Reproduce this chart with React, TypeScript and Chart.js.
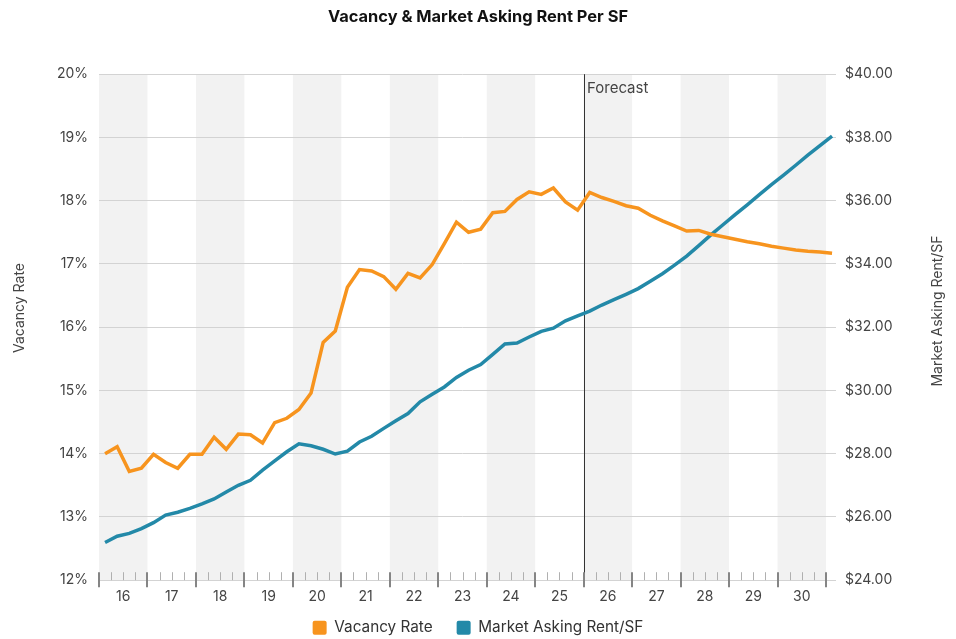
import React, { useEffect, useRef } from 'react';
import { Chart, registerables } from 'chart.js';

Chart.register(...registerables);

// Year labels (one per 4 quarters), 2016 .. 2030
const yearLabels = ['16', '17', '18', '19', '20', '21', '22', '23', '24', '25', '26', '27', '28', '29', '30'];

// Quarterly vacancy rate (%), 16Q1 .. 31Q1
const vacancyRate = [
  14.0, 14.11, 13.72, 13.77, 13.99, 13.86, 13.77, 13.99, 13.99, 14.26,
  14.07, 14.31, 14.3, 14.17, 14.49, 14.56, 14.7, 14.96, 15.76, 15.94,
  16.63, 16.91, 16.89, 16.8, 16.6, 16.85, 16.78, 16.99, 17.32, 17.66,
  17.5, 17.55, 17.81, 17.83, 18.02, 18.14, 18.1, 18.2, 17.98, 17.85,
  18.13, 18.05, 17.99, 17.92, 17.88, 17.77, 17.68, 17.6, 17.52, 17.53,
  17.47, 17.43, 17.39, 17.35, 17.32, 17.28, 17.25, 17.22, 17.2, 17.19, 17.17,
];

// Quarterly market asking rent ($/SF), 16Q1 .. 31Q1
const askingRent = [
  25.19, 25.39, 25.48, 25.63, 25.82, 26.06, 26.15, 26.27, 26.41, 26.57,
  26.79, 27.0, 27.16, 27.48, 27.77, 28.06, 28.31, 28.25, 28.14, 27.99,
  28.08, 28.37, 28.55, 28.8, 29.04, 29.27, 29.64, 29.88, 30.11, 30.41,
  30.64, 30.82, 31.14, 31.47, 31.5, 31.69, 31.87, 31.97, 32.2, 32.36,
  32.51, 32.7, 32.87, 33.04, 33.22, 33.45, 33.69, 33.96, 34.25, 34.58,
  34.92, 35.24, 35.56, 35.87, 36.19, 36.51, 36.81, 37.12, 37.44, 37.74, 38.04,
];

const forecastStartQuarter = 40; // boundary between 25 and 26
const quartersPerYear = 4;

const ORANGE = '#F7941E';
const BLUE = '#2389A8';
const FONT = 'Inter, "Noto Sans", sans-serif';

export default function App() {
  const canvasRef = useRef<HTMLCanvasElement | null>(null);

  useEffect(() => {
    if (!canvasRef.current) return;
    const totalQuarters = yearLabels.length * quartersPerYear;

    const decor = {
      id: 'decor',
      afterLayout(chart: any) {
        if (chart.legend) {
          chart.legend.top += 6.5;
          chart.legend.bottom += 6.5;
        }
        const x = chart.scales.x;
        if (x) {
          x.bottom += 26;
          x.height += 26;
        }
      },
      beforeDraw(chart: any) {
        const { ctx, chartArea: a } = chart;
        const x = chart.scales.x;
        ctx.save();
        ctx.fillStyle = '#F2F2F2';
        for (let j = 0; j < yearLabels.length; j += 2) {
          const x0 = x.getPixelForValue(j * quartersPerYear);
          const x1 = x.getPixelForValue((j + 1) * quartersPerYear);
          ctx.fillRect(x0, a.top, x1 - x0, a.bottom - a.top);
        }
        ctx.restore();
      },
      beforeDatasetsDraw(chart: any) {
        const { ctx, chartArea: a } = chart;
        const x = chart.scales.x;
        const fx = Math.round(x.getPixelForValue(forecastStartQuarter)) + 0.5;
        ctx.save();
        ctx.strokeStyle = '#333333';
        ctx.lineWidth = 1;
        ctx.beginPath();
        ctx.moveTo(fx, a.top);
        ctx.lineTo(fx, a.bottom);
        ctx.stroke();
        ctx.fillStyle = '#444444';
        ctx.font = '15px ' + FONT;
        ctx.textAlign = 'left';
        ctx.textBaseline = 'middle';
        ctx.fillText('Forecast', fx + 2.5, a.top + 14);
        ctx.restore();
      },
      afterDraw(chart: any) {
        const { ctx, chartArea: a } = chart;
        const x = chart.scales.x;
        ctx.save();
        for (let k = 0; k <= totalQuarters; k++) {
          const px = Math.round(x.getPixelForValue(k));
          const major = k % quartersPerYear === 0;
          ctx.beginPath();
          if (major) {
            ctx.strokeStyle = '#858585';
            ctx.lineWidth = 2;
            ctx.moveTo(px, a.bottom - 8);
            ctx.lineTo(px, a.bottom + 7);
          } else {
            ctx.strokeStyle = '#B0B0B0';
            ctx.lineWidth = 1;
            ctx.moveTo(px + 0.5, a.bottom - 8);
            ctx.lineTo(px + 0.5, a.bottom);
          }
          ctx.stroke();
        }
        // axis titles
        ctx.fillStyle = '#444444';
        ctx.font = '14px ' + FONT;
        ctx.textAlign = 'center';
        ctx.textBaseline = 'middle';
        ctx.translate(20, 308);
        ctx.rotate(-Math.PI / 2);
        ctx.fillText('Vacancy Rate', 0, 0);
        ctx.restore();
        ctx.save();
        ctx.fillStyle = '#444444';
        ctx.font = '14px ' + FONT;
        ctx.textAlign = 'center';
        ctx.textBaseline = 'middle';
        ctx.translate(938, 311);
        ctx.rotate(-Math.PI / 2);
        ctx.fillText('Market Asking Rent/SF', 0, 0);
        ctx.restore();
      },
    };

    const chart = new Chart(canvasRef.current, {
      type: 'line',
      data: {
        datasets: [
          {
            label: 'Vacancy Rate',
            data: vacancyRate.map((v, i) => ({ x: i + 0.5, y: v })),
            borderColor: ORANGE,
            backgroundColor: ORANGE,
            borderWidth: 3.5,
            pointRadius: 0,
            tension: 0,
            yAxisID: 'y',
            clip: false as any,
          },
          {
            label: 'Market Asking Rent/SF',
            data: askingRent.map((v, i) => ({ x: i + 0.5, y: v })),
            borderColor: BLUE,
            backgroundColor: BLUE,
            borderWidth: 3.5,
            pointRadius: 0,
            tension: 0,
            yAxisID: 'y1',
            clip: false as any,
          },
        ],
      },
      options: {
        responsive: true,
        maintainAspectRatio: false,
        animation: false,
        layout: { padding: 0 },
        plugins: {
          title: {
            display: true,
            text: 'Vacancy & Market Asking Rent Per SF',
            color: '#111111',
            font: { family: FONT, size: 16.4, weight: 'bold' },
            padding: { top: 7, bottom: 47.5 },
          },
          legend: {
            position: 'bottom',
            labels: {
              font: { family: FONT, size: 15.3 },
              color: '#333333',
              boxWidth: 14,
              boxHeight: 14,
              padding: 24,
              useBorderRadius: true,
              borderRadius: 2,
              generateLabels: (c: any) =>
                Chart.defaults.plugins.legend.labels
                  .generateLabels(c)
                  .map((l: any) => ({ ...l, lineWidth: 0, strokeStyle: 'transparent' })),
            },
          },
          tooltip: { enabled: false },
        },
        scales: {
          x: {
            type: 'linear',
            min: 0,
            max: totalQuarters,
            grid: { display: false, drawTicks: false },
            border: { display: false },
            afterFit: (s: any) => {
              s.height = 9.5;
            },
            ticks: {
              stepSize: 1,
              autoSkip: false,
              maxRotation: 0,
              padding: 8,
              color: '#444444',
              font: { family: FONT, size: 14 },
              callback: (v: any) => {
                const n = Number(v);
                return n % quartersPerYear === 2 ? yearLabels[(n - 2) / quartersPerYear] : '';
              },
            },
          },
          y: {
            position: 'left',
            min: 12,
            max: 20,
            grid: { color: '#D3D3D3', drawTicks: false },
            border: { display: false },
            afterFit: (s: any) => {
              s.width = 99;
            },
            ticks: {
              stepSize: 1,
              padding: 11,
              color: '#444444',
              font: { family: FONT, size: 14 },
              callback: (v: any) => v + '%',
            },
          },
          y1: {
            position: 'right',
            min: 24,
            max: 40,
            grid: { drawOnChartArea: false, drawTicks: true, tickLength: 10, tickColor: '#D3D3D3' },
            border: { display: false },
            afterFit: (s: any) => {
              s.width = 130;
            },
            ticks: {
              stepSize: 2,
              padding: 9,
              color: '#444444',
              font: { family: FONT, size: 14 },
              callback: (v: any) => '$' + Number(v).toFixed(2),
            },
          },
        },
      },
      plugins: [decor],
    });

    return () => chart.destroy();
  }, []);

  return (
    <div style={{ position: 'fixed', left: 0, top: 0, width: 956, height: 639, background: '#ffffff' }}>
      <canvas ref={canvasRef} />
    </div>
  );
}
